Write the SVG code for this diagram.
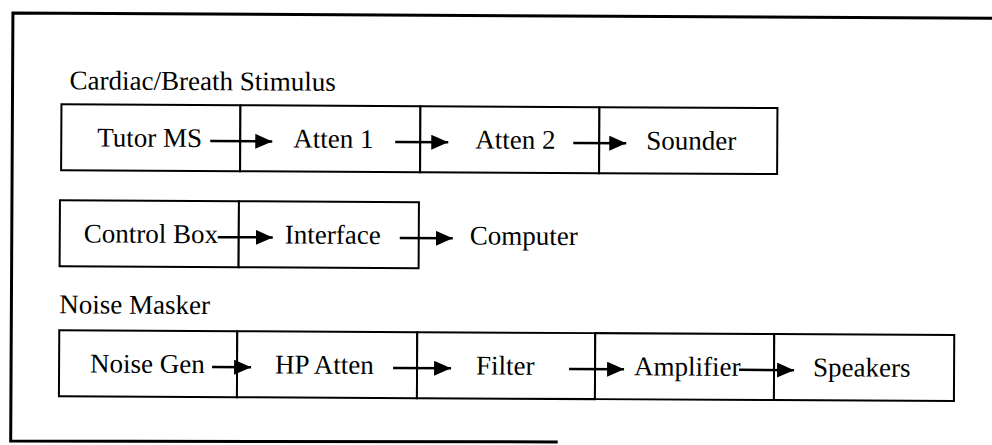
<svg xmlns="http://www.w3.org/2000/svg" width="992" height="445" viewBox="0 0 992 445">
<defs>
<marker id="ah" markerWidth="18" markerHeight="16" refX="17" refY="7.5" orient="auto" markerUnits="userSpaceOnUse">
<path d="M0,0 L17,7.5 L0,15 Z" fill="#000"/>
</marker>
<style>
.bx{fill:#fff;stroke:#000;stroke-width:2}
.t{font-family:"Liberation Serif","Times New Roman",serif;font-size:27px;fill:#000}
.c{stroke:#000;stroke-width:2.5;fill:none;marker-end:url(#ah)}
.fr{stroke:#000;stroke-width:3;fill:none}
</style>
</defs>
<rect width="992" height="445" fill="#fff"/>
<g transform="rotate(0.3)">
<g id="frame">
<path class="fr" d="M1000,13 L13,13 L13,441 L560,439"/>
</g>
<g id="label-cardiac"><text class="t" x="70" y="89">Cardiac/Breath Stimulus</text></g>
<g id="label-noise"><text class="t" x="61" y="313">Noise Masker</text></g>

<g id="tutor-ms"><rect class="bx" x="62" y="104" width="179" height="66"/><text class="t" x="98" y="146">Tutor MS</text></g>
<g id="atten1"><rect class="bx" x="241" y="104" width="180" height="66"/><text class="t" x="294" y="146">Atten 1</text></g>
<g id="atten2"><rect class="bx" x="421" y="104" width="179" height="66"/><text class="t" x="476" y="146">Atten 2</text></g>
<g id="sounder"><rect class="bx" x="600" y="104" width="178" height="66"/><text class="t" x="647" y="146">Sounder</text></g>

<g id="control-box"><rect class="bx" x="61" y="200" width="179" height="66"/><text class="t" x="85" y="242">Control Box</text></g>
<g id="interface"><rect class="bx" x="240" y="200" width="180" height="66"/><text class="t" x="286" y="242">Interface</text></g>
<g id="computer"><text class="t" x="471" y="242">Computer</text></g>

<g id="noise-gen"><rect class="bx" x="61" y="330" width="178" height="66"/><text class="t" x="92" y="372">Noise Gen</text></g>
<g id="hp-atten"><rect class="bx" x="239" y="330" width="180" height="66"/><text class="t" x="277" y="372">HP Atten</text></g>
<g id="filter"><rect class="bx" x="419" y="330" width="178" height="66"/><text class="t" x="478" y="372">Filter</text></g>
<g id="amplifier"><rect class="bx" x="597" y="330" width="179" height="66"/><text class="t" x="636" y="372">Amplifier</text></g>
<g id="speakers"><rect class="bx" x="776" y="330" width="180" height="66"/><text class="t" x="815" y="372">Speakers</text></g>

<g id="connectors">
<line class="c" x1="211" y1="140" x2="273" y2="140"/>
<line class="c" x1="396" y1="140" x2="449" y2="140"/>
<line class="c" x1="574" y1="140" x2="627" y2="140"/>
<line class="c" x1="219" y1="236" x2="274" y2="236"/>
<line class="c" x1="401" y1="236" x2="454" y2="236"/>
<line class="c" x1="214" y1="366" x2="253" y2="366"/>
<line class="c" x1="395" y1="366" x2="453" y2="366"/>
<line class="c" x1="571" y1="366" x2="626" y2="366"/>
<line class="c" x1="741" y1="366" x2="796" y2="366"/>
</g>
</g>
</svg>
